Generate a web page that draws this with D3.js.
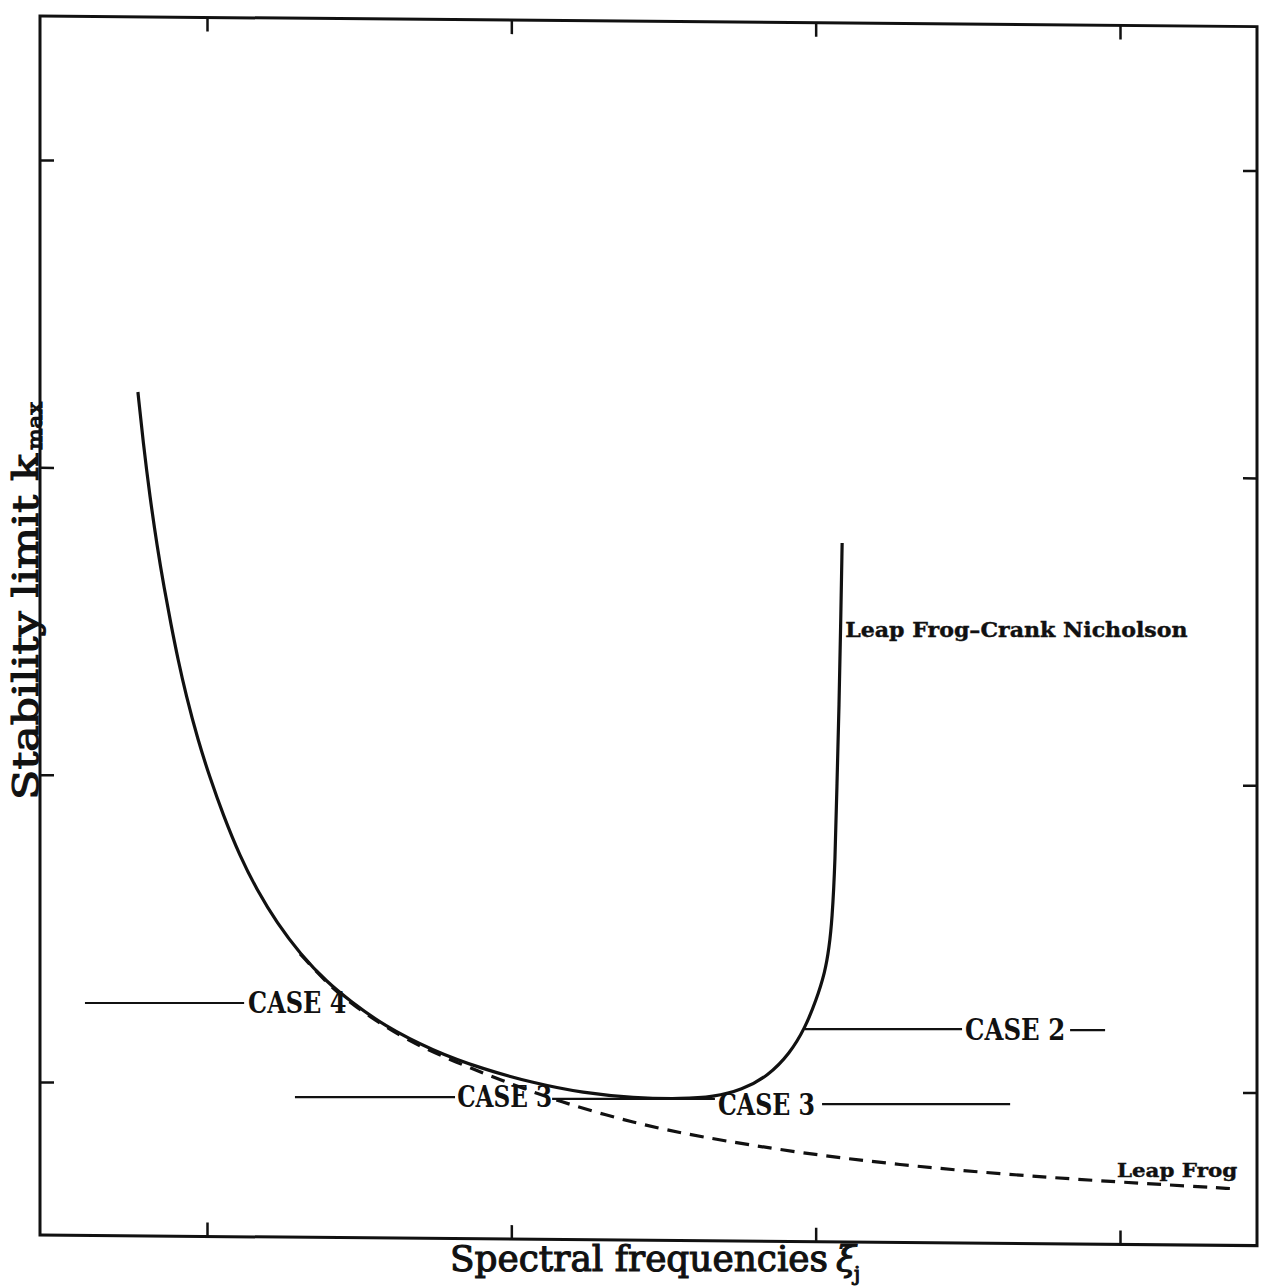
<!DOCTYPE html>
<html>
<head>
    <title>Stability limit vs spectral frequency</title>
    <script src="https://cdn.jsdelivr.net/npm/d3@7"></script>
    <style>
    body{margin:0;background:#fff;}
    svg{display:block;background:#fff;}
    .tick line{stroke:#111;stroke-width:2.5;}
    </style>
</head>
<body>
</body>
<script type="text/javascript">

// values, in tick units (ticks carry no labels)
const xTicks = [1, 2, 3, 4];
const yTicks = [1, 2, 3, 4];

// Leap Frog - Crank Nicholson (solid)
const lfcnX = [0.773, 0.790, 0.813, 0.836, 0.859, 0.882, 0.905, 0.931, 0.970, 1.010,
               1.053, 1.108, 1.164, 1.230, 1.306, 1.394, 1.470, 1.578, 1.743, 1.907,
               2.071, 2.236, 2.400, 2.564, 2.663, 2.758, 2.844, 2.916, 2.965, 3.001,
               3.031, 3.044, 3.054, 3.064, 3.070, 3.077, 3.082, 3.087];
const lfcnY = [3.245, 3.083, 2.900, 2.744, 2.608, 2.487, 2.373, 2.259, 2.113, 1.989,
               1.869, 1.735, 1.625, 1.517, 1.417, 1.325, 1.264, 1.185, 1.101, 1.042,
               0.997, 0.964, 0.948, 0.945, 0.951, 0.974, 1.020, 1.094, 1.176, 1.264,
               1.358, 1.436, 1.527, 1.716, 1.973, 2.227, 2.481, 2.754];

// Leap Frog (dashed)
const lfX = [1.306, 1.394, 1.470, 1.634, 1.799, 1.963, 2.160, 2.400, 2.620, 2.949,
             3.277, 3.606, 3.935, 4.165, 4.385];
const lfY = [1.417, 1.322, 1.257, 1.146, 1.072, 1.007, 0.935, 0.867, 0.821, 0.769,
             0.730, 0.701, 0.678, 0.665, 0.652];

// CASE annotations
const caseNames = ["CASE 4", "CASE 3", "CASE 3", "CASE 2"];
const caseStart = [1.135, 1.822, 2.679, 3.491];
const caseEnd   = [1.458, 2.134, 2.998, 3.820];
const caseLevel = [1.257, 0.951, 0.928, 1.171];

// leader lines next to the CASE labels
const leaderFrom  = [0.599, 1.289, 2.134, 3.021, 2.965, 3.836];
const leaderTo    = [1.122, 1.815, 2.669, 3.639, 3.481, 3.951];
const leaderLevel = [1.257, 0.951, 0.945, 0.928, 1.172, 1.169];

// curve names
const curveNames = ["Leap Frog\u2013Crank Nicholson", "Leap Frog"];
const curveNameX = [3.097, 3.990];
const curveNameX2 = [4.222, 4.385];
const curveNameY = [2.448, 0.691];

const width = 1283, height = 1288;
const frame = {left: 40, right: 1257, top: 16, bottom: 1235};

const svg = d3.select("body").append("svg")
    .attr("width", width)
    .attr("height", height);

const x = d3.scaleLinear().domain([1, 4]).range([207, 1120]);
const y = d3.scaleLinear().domain([1, 4]).range([1082, 160]);

//frame + ticks, slightly sheared like the scanned page
const box = svg.append("g")
    .attr("transform", `translate(${frame.left},${frame.top}) skewY(0.5) translate(${-frame.left},${-frame.top})`);

box.append("rect")
    .attr("x", frame.left)
    .attr("y", frame.top)
    .attr("width", frame.right - frame.left)
    .attr("height", frame.bottom - frame.top)
    .attr("fill", "none")
    .attr("stroke", "#111")
    .attr("stroke-width", 3);

const axes = [
    {axis: d3.axisBottom(x).tickValues(xTicks), t: `translate(0,${frame.bottom})`},
    {axis: d3.axisTop(x).tickValues(xTicks), t: `translate(0,${frame.top})`},
    {axis: d3.axisLeft(y).tickValues(yTicks), t: `translate(${frame.left},0)`},
    {axis: d3.axisRight(y).tickValues(yTicks), t: `translate(${frame.right},0)`}
];
axes.forEach(function(a){
    const g = box.append("g")
        .attr("transform", a.t)
        .call(a.axis.tickSize(-14).tickFormat(""));
    g.select(".domain").remove();
});

//curves
const line = d3.line()
    .x(d => x(d[0]))
    .y(d => y(d[1]))
    .curve(d3.curveBasis);

svg.append("path")
    .datum(lfX.map((v, i) => [v, lfY[i]]))
    .attr("d", line)
    .attr("fill", "none")
    .attr("stroke", "#111")
    .attr("stroke-width", 3.2)
    .attr("stroke-dasharray", "14,9");

svg.append("path")
    .datum(lfcnX.map((v, i) => [v, lfcnY[i]]))
    .attr("d", line)
    .attr("fill", "none")
    .attr("stroke", "#111")
    .attr("stroke-width", 3.2);

//annotations
const anno = svg.append("g").attr("class", "annotations-holder");

anno.selectAll("line.leader")
    .data(leaderFrom)
    .join("line")
    .attr("class", "leader")
    .attr("x1", (d, i) => x(d))
    .attr("x2", (d, i) => x(leaderTo[i]))
    .attr("y1", (d, i) => y(leaderLevel[i]))
    .attr("y2", (d, i) => y(leaderLevel[i]))
    .attr("stroke", "#111")
    .attr("stroke-width", 2.2);

anno.selectAll("text.case")
    .data(caseNames)
    .join("text")
    .attr("class", "case")
    .attr("x", (d, i) => x(caseStart[i]))
    .attr("y", (d, i) => y(caseLevel[i]))
    .attr("dy", "0.36em")
    .attr("textLength", (d, i) => x(caseEnd[i]) - x(caseStart[i]))
    .attr("lengthAdjust", "spacingAndGlyphs")
    .style("font-family", "'DejaVu Serif', serif")
    .style("font-weight", "bold")
    .style("font-size", "29px")
    .attr("fill", "#111")
    .text(d => d);

anno.selectAll("text.curve-name")
    .data(curveNames)
    .join("text")
    .attr("class", "curve-name")
    .attr("x", (d, i) => x(curveNameX[i]))
    .attr("y", (d, i) => y(curveNameY[i]))
    .attr("textLength", (d, i) => x(curveNameX2[i]) - x(curveNameX[i]))
    .attr("lengthAdjust", "spacingAndGlyphs")
    .style("font-family", "'DejaVu Serif', serif")
    .style("font-weight", "bold")
    .style("font-size", (d, i) => i == 0 ? "20px" : "18px")
    .attr("fill", "#111")
    .attr("stroke", "#111")
    .attr("stroke-width", 0.4)
    .text(d => d);

//axis titles
const labelStyle = function(sel, size){
    sel.style("font-family", "'DejaVu Serif', serif")
        .style("font-size", size)
        .attr("fill", "#111")
        .attr("stroke", "#111")
        .attr("stroke-width", 1.1);
};

svg.append("text")
    .attr("x", 450)
    .attr("y", 1271)
    .attr("textLength", 378)
    .attr("lengthAdjust", "spacingAndGlyphs")
    .call(labelStyle, "35px")
    .text("Spectral frequencies");
svg.append("text")
    .attr("x", 836)
    .attr("y", 1271)
    .call(labelStyle, "36px")
    .style("font-style", "italic")
    .text("\u03be");
svg.append("text")
    .attr("x", 854)
    .attr("y", 1281)
    .call(labelStyle, "20px")
    .text("j");

svg.append("text")
    .attr("transform", "translate(38,800) rotate(-90)")
    .attr("textLength", 346)
    .attr("lengthAdjust", "spacingAndGlyphs")
    .call(labelStyle, "35px")
    .text("Stability limit k");
svg.append("text")
    .attr("transform", "translate(42,450) rotate(-90)")
    .attr("textLength", 48)
    .attr("lengthAdjust", "spacingAndGlyphs")
    .call(labelStyle, "21px")
    .text("max");

</script>
</html>
